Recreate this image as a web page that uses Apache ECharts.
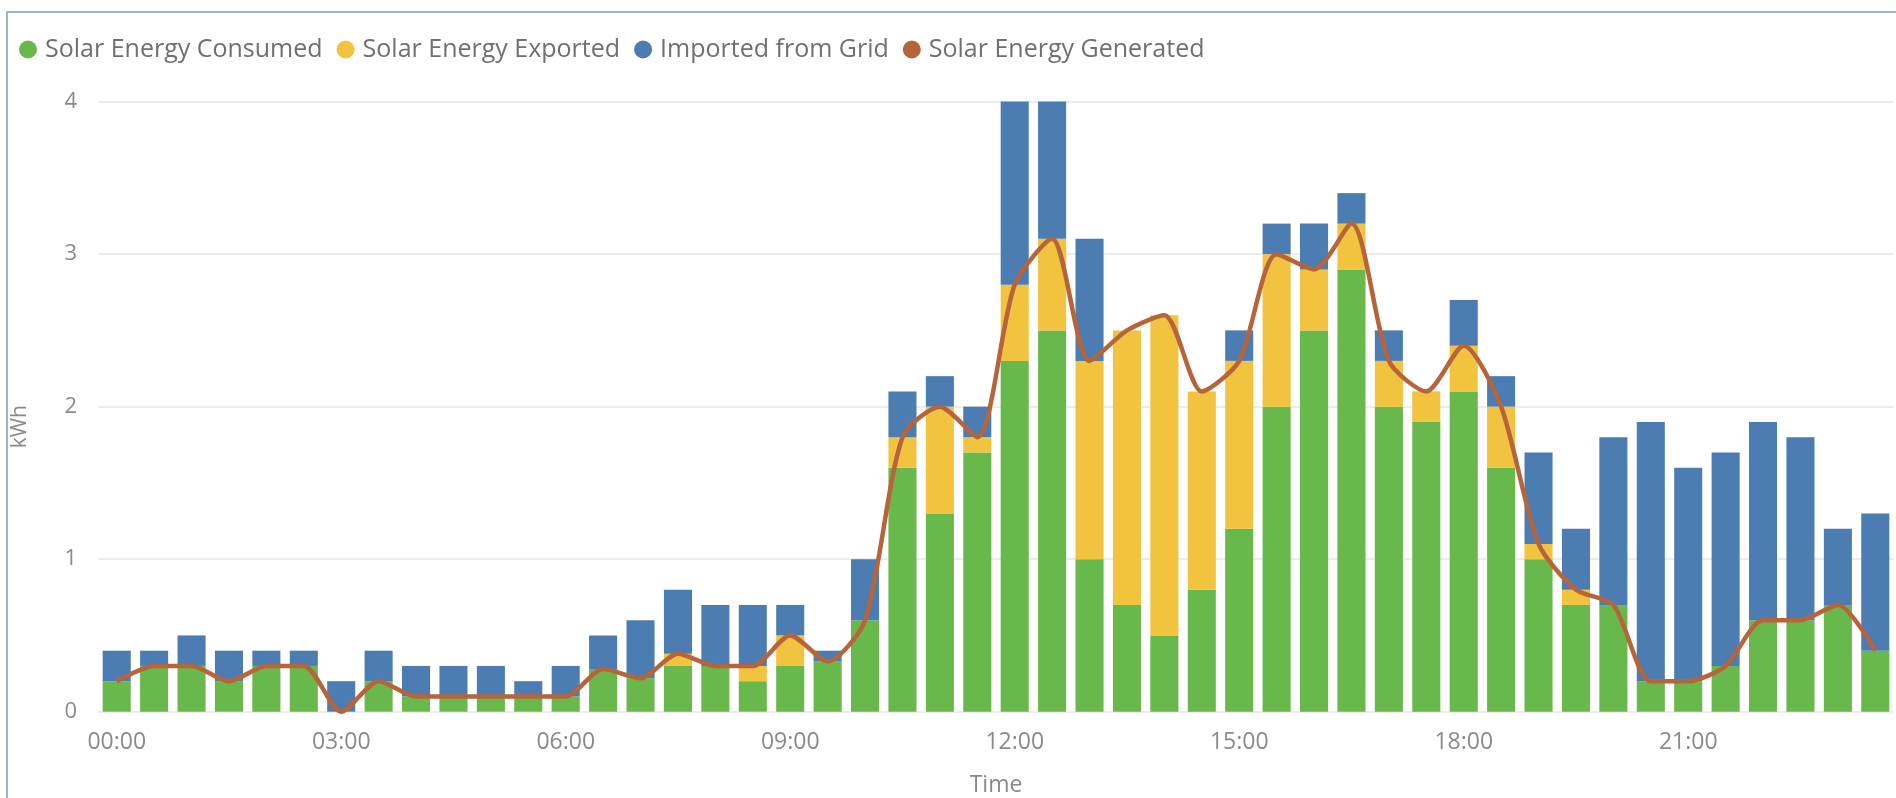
<!DOCTYPE html>
<html>
<head>
<meta charset="utf-8">
<script src="https://cdn.jsdelivr.net/npm/echarts@6/dist/echarts.min.js"></script>
<style>
  html, body { margin: 0; padding: 0; background: #fff; }
  #frame { position: absolute; left: 6px; top: 11px; width: 1890px; height: 787px;
           border-top: 2px solid #a3b2cc; border-left: 2px solid #a3b2cc; box-sizing: border-box; }
  #chart { position: absolute; left: 0; top: 0; width: 1896px; height: 798px; }
</style>
</head>
<body>
<div id="frame"></div>
<div id="chart"></div>
<script>
const categories = [
  '00:00','00:30','01:00','01:30','02:00','02:30','03:00','03:30','04:00','04:30','05:00','05:30',
  '06:00','06:30','07:00','07:30','08:00','08:30','09:00','09:30','10:00','10:30','11:00','11:30',
  '12:00','12:30','13:00','13:30','14:00','14:30','15:00','15:30','16:00','16:30','17:00','17:30',
  '18:00','18:30','19:00','19:30','20:00','20:30','21:00','21:30','22:00','22:30','23:00','23:30'
];
const consumed = [
  0.2,0.3,0.3,0.2,0.3,0.3,0.0,0.2,0.1,0.1,0.1,0.1,
  0.1,0.28,0.22,0.3,0.3,0.2,0.3,0.33,0.6,1.6,1.3,1.7,
  2.3,2.5,1.0,0.7,0.5,0.8,1.2,2.0,2.5,2.9,2.0,1.9,
  2.1,1.6,1.0,0.7,0.7,0.2,0.2,0.3,0.6,0.6,0.7,0.4
];
const exported = [
  0,0,0,0,0,0,0,0,0,0,0,0,
  0,0,0,0.08,0,0.1,0.2,0,0,0.2,0.7,0.1,
  0.5,0.6,1.3,1.8,2.1,1.3,1.1,1.0,0.4,0.3,0.3,0.2,
  0.3,0.4,0.1,0.1,0,0,0,0,0,0,0,0
];
const imported = [
  0.2,0.1,0.2,0.2,0.1,0.1,0.2,0.2,0.2,0.2,0.2,0.1,
  0.2,0.22,0.38,0.42,0.4,0.4,0.2,0.07,0.4,0.3,0.2,0.2,
  1.2,0.9,0.8,0,0,0,0.2,0.2,0.3,0.2,0.2,0,
  0.3,0.2,0.6,0.4,1.1,1.7,1.4,1.4,1.3,1.2,0.5,0.9
];
const generated = [
  0.2,0.3,0.3,0.2,0.3,0.3,0.0,0.2,0.1,0.1,0.1,0.1,
  0.1,0.28,0.22,0.38,0.3,0.3,0.5,0.33,0.6,1.8,2.0,1.8,
  2.8,3.1,2.3,2.5,2.6,2.1,2.3,3.0,2.9,3.2,2.3,2.1,
  2.4,2.0,1.1,0.8,0.7,0.2,0.2,0.3,0.6,0.6,0.7,0.4
];
const yTicks = [0, 1, 2, 3, 4];

const FONT = '"Open Sans", "Noto Sans", sans-serif';
const chart = echarts.init(document.getElementById('chart'), null, { renderer: 'canvas' });
chart.setOption({
  animation: false,
  backgroundColor: 'transparent',
  textStyle: { fontFamily: FONT },
  color: ['#68b84c', '#f1c33f', '#4b7db3', '#b8643a'],
  legend: {
    left: 14, top: 32,
    icon: 'circle', itemWidth: 18, itemHeight: 18, itemGap: 14,
    textStyle: { fontSize: 25, color: '#707070', fontFamily: FONT, padding: [0, 0, 0, 3] },
    data: ['Solar Energy Consumed', 'Solar Energy Exported', 'Imported from Grid', 'Solar Energy Generated']
  },
  grid: { left: 98, right: 2, top: 101.6, bottom: 86.3, containLabel: false, outerBoundsMode: 'none' },
  xAxis: {
    type: 'category',
    data: categories,
    boundaryGap: true,
    name: 'Time', nameLocation: 'middle', nameGap: 62,
    nameTextStyle: { fontSize: 23, color: '#8a8a8a', fontFamily: FONT },
    axisLine: { show: false },
    axisTick: { show: false },
    axisLabel: { interval: 5, margin: 19, fontSize: 23, color: '#8a8a8a', fontFamily: FONT }
  },
  yAxis: {
    type: 'value',
    min: yTicks[0], max: yTicks[yTicks.length - 1], interval: 1,
    name: 'kWh', nameLocation: 'middle', nameGap: 67, nameRotate: 90,
    nameTextStyle: { fontSize: 21, color: '#8a8a8a', fontFamily: FONT, padding: [0, 40, 0, 0] },
    axisLine: { show: false },
    axisTick: { show: false },
    axisLabel: { margin: 21, fontSize: 22, color: '#8a8a8a', fontFamily: FONT },
    splitLine: { show: true, lineStyle: { color: '#ececec', width: 2 } }
  },
  series: [
    { name: 'Solar Energy Consumed', type: 'bar', stack: 'total', data: consumed, barCategoryGap: '25%', itemStyle: { color: '#68b84c' } },
    { name: 'Solar Energy Exported', type: 'bar', stack: 'total', data: exported, itemStyle: { color: '#f1c33f' } },
    { name: 'Imported from Grid', type: 'bar', stack: 'total', data: imported, itemStyle: { color: '#4b7db3' } },
    { name: 'Solar Energy Generated', type: 'line', data: generated, smooth: 0.25, showSymbol: false, symbol: 'none',
      z: 5, lineStyle: { color: '#b8643a', width: 4.5 }, itemStyle: { color: '#b8643a' } }
  ]
});
</script>
</body>
</html>
